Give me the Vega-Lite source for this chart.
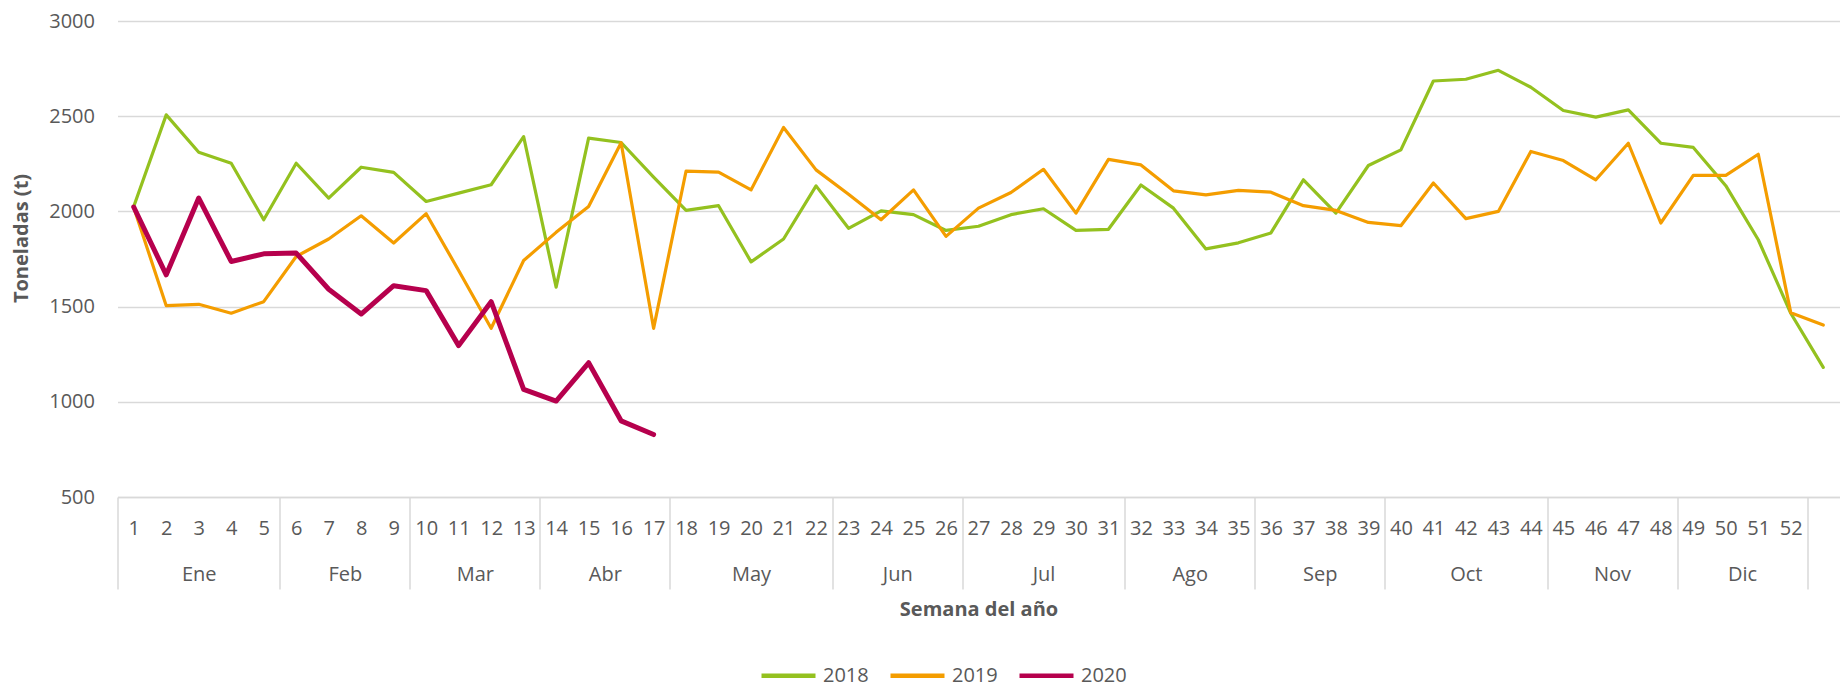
{
  "$schema": "https://vega.github.io/schema/vega-lite/v6.json",
  "width": 1722,
  "height": 476,
  "autosize": {"type": "none"},
  "padding": {"left": 117.5, "top": 21, "right": 3.5, "bottom": 193},
  "background": "white",
  "config": {
    "font": "Open Sans",
    "view": {"stroke": null},
    "axis": {"labelColor": "#595959", "labelFontSize": 20, "labelFont": "Open Sans", "titleColor": "#595959", "titleFontSize": 20, "titleFontWeight": "bold", "titleFont": "Open Sans"}
  },
  "data": {"values": [
    {"year": 2018, "week": 1, "t": 2026}, {"year": 2018, "week": 2, "t": 2507}, {"year": 2018, "week": 3, "t": 2311}, {"year": 2018, "week": 4, "t": 2253}, {"year": 2018, "week": 5, "t": 1956}, {"year": 2018, "week": 6, "t": 2253}, {"year": 2018, "week": 7, "t": 2070}, {"year": 2018, "week": 8, "t": 2232}, {"year": 2018, "week": 9, "t": 2205}, {"year": 2018, "week": 10, "t": 2052}, {"year": 2018, "week": 11, "t": 2096}, {"year": 2018, "week": 12, "t": 2140}, {"year": 2018, "week": 13, "t": 2393}, {"year": 2018, "week": 14, "t": 1602}, {"year": 2018, "week": 15, "t": 2385}, {"year": 2018, "week": 16, "t": 2362}, {"year": 2018, "week": 17, "t": 2180}, {"year": 2018, "week": 18, "t": 2005}, {"year": 2018, "week": 19, "t": 2030}, {"year": 2018, "week": 20, "t": 1735}, {"year": 2018, "week": 21, "t": 1855}, {"year": 2018, "week": 22, "t": 2134}, {"year": 2018, "week": 23, "t": 1911}, {"year": 2018, "week": 24, "t": 2003}, {"year": 2018, "week": 25, "t": 1983}, {"year": 2018, "week": 26, "t": 1900}, {"year": 2018, "week": 27, "t": 1922}, {"year": 2018, "week": 28, "t": 1983}, {"year": 2018, "week": 29, "t": 2014}, {"year": 2018, "week": 30, "t": 1900}, {"year": 2018, "week": 31, "t": 1906}, {"year": 2018, "week": 32, "t": 2139}, {"year": 2018, "week": 33, "t": 2017}, {"year": 2018, "week": 34, "t": 1803}, {"year": 2018, "week": 35, "t": 1835}, {"year": 2018, "week": 36, "t": 1887}, {"year": 2018, "week": 37, "t": 2166}, {"year": 2018, "week": 38, "t": 1991}, {"year": 2018, "week": 39, "t": 2241}, {"year": 2018, "week": 40, "t": 2323}, {"year": 2018, "week": 41, "t": 2685}, {"year": 2018, "week": 42, "t": 2694}, {"year": 2018, "week": 43, "t": 2741}, {"year": 2018, "week": 44, "t": 2652}, {"year": 2018, "week": 45, "t": 2530}, {"year": 2018, "week": 46, "t": 2495}, {"year": 2018, "week": 47, "t": 2533}, {"year": 2018, "week": 48, "t": 2358}, {"year": 2018, "week": 49, "t": 2336}, {"year": 2018, "week": 50, "t": 2135}, {"year": 2018, "week": 51, "t": 1851}, {"year": 2018, "week": 52, "t": 1465}, {"year": 2018, "week": 53, "t": 1181},
    {"year": 2019, "week": 1, "t": 2020}, {"year": 2019, "week": 2, "t": 1505}, {"year": 2019, "week": 3, "t": 1512}, {"year": 2019, "week": 4, "t": 1465}, {"year": 2019, "week": 5, "t": 1526}, {"year": 2019, "week": 6, "t": 1763}, {"year": 2019, "week": 7, "t": 1855}, {"year": 2019, "week": 8, "t": 1977}, {"year": 2019, "week": 9, "t": 1834}, {"year": 2019, "week": 10, "t": 1988}, {"year": 2019, "week": 11, "t": 1690}, {"year": 2019, "week": 12, "t": 1386}, {"year": 2019, "week": 13, "t": 1742}, {"year": 2019, "week": 14, "t": 1890}, {"year": 2019, "week": 15, "t": 2026}, {"year": 2019, "week": 16, "t": 2361}, {"year": 2019, "week": 17, "t": 1386}, {"year": 2019, "week": 18, "t": 2212}, {"year": 2019, "week": 19, "t": 2206}, {"year": 2019, "week": 20, "t": 2113}, {"year": 2019, "week": 21, "t": 2441}, {"year": 2019, "week": 22, "t": 2218}, {"year": 2019, "week": 23, "t": 2090}, {"year": 2019, "week": 24, "t": 1956}, {"year": 2019, "week": 25, "t": 2113}, {"year": 2019, "week": 26, "t": 1869}, {"year": 2019, "week": 27, "t": 2017}, {"year": 2019, "week": 28, "t": 2099}, {"year": 2019, "week": 29, "t": 2221}, {"year": 2019, "week": 30, "t": 1991}, {"year": 2019, "week": 31, "t": 2273}, {"year": 2019, "week": 32, "t": 2244}, {"year": 2019, "week": 33, "t": 2108}, {"year": 2019, "week": 34, "t": 2087}, {"year": 2019, "week": 35, "t": 2110}, {"year": 2019, "week": 36, "t": 2101}, {"year": 2019, "week": 37, "t": 2030}, {"year": 2019, "week": 38, "t": 2005}, {"year": 2019, "week": 39, "t": 1942}, {"year": 2019, "week": 40, "t": 1925}, {"year": 2019, "week": 41, "t": 2149}, {"year": 2019, "week": 42, "t": 1962}, {"year": 2019, "week": 43, "t": 2000}, {"year": 2019, "week": 44, "t": 2315}, {"year": 2019, "week": 45, "t": 2267}, {"year": 2019, "week": 46, "t": 2166}, {"year": 2019, "week": 47, "t": 2358}, {"year": 2019, "week": 48, "t": 1939}, {"year": 2019, "week": 49, "t": 2189}, {"year": 2019, "week": 50, "t": 2189}, {"year": 2019, "week": 51, "t": 2300}, {"year": 2019, "week": 52, "t": 1468}, {"year": 2019, "week": 53, "t": 1403},
    {"year": 2020, "week": 1, "t": 2023}, {"year": 2020, "week": 2, "t": 1667}, {"year": 2020, "week": 3, "t": 2070}, {"year": 2020, "week": 4, "t": 1737}, {"year": 2020, "week": 5, "t": 1777}, {"year": 2020, "week": 6, "t": 1781}, {"year": 2020, "week": 7, "t": 1591}, {"year": 2020, "week": 8, "t": 1461}, {"year": 2020, "week": 9, "t": 1610}, {"year": 2020, "week": 10, "t": 1584}, {"year": 2020, "week": 11, "t": 1295}, {"year": 2020, "week": 12, "t": 1526}, {"year": 2020, "week": 13, "t": 1065}, {"year": 2020, "week": 14, "t": 1004}, {"year": 2020, "week": 15, "t": 1205}, {"year": 2020, "week": 16, "t": 900}, {"year": 2020, "week": 17, "t": 828}
  ]},
  "encoding": {
    "color": {"field": "year", "type": "ordinal", "scale": {"domain": [2018, 2019, 2020], "range": ["#94C11F", "#F49D00", "#B6004D"]},
      "legend": {"title": null, "orient": "none", "legendX": 641.5, "legendY": 625, "direction": "horizontal", "symbolType": "stroke", "symbolSize": 2916, "symbolStrokeWidth": 4.5, "labelFontSize": 20, "labelColor": "#595959", "labelFont": "Open Sans", "labelOffset": 5, "columnPadding": 12}}
  },
  "layer": [
    {
      "transform": [{"filter": "datum.year == 2018"}],
      "mark": {"type": "line", "strokeWidth": 3.2, "strokeJoin": "round", "strokeCap": "round"},
      "encoding": {
        "x": {"field": "week", "type": "quantitative", "scale": {"domain": [0.5, 53.5], "nice": false, "zero": false},
          "axis": {"orient": "bottom", "values": [1,2,3,4,5,6,7,8,9,10,11,12,13,14,15,16,17,18,19,20,21,22,23,24,25,26,27,28,29,30,31,32,33,34,35,36,37,38,39,40,41,42,43,44,45,46,47,48,49,50,51,52], "format": "d", "ticks": false, "tickSize": 0, "domain": true, "domainColor": "#D9D9D9", "domainWidth": 1.5, "labelPadding": 21, "labelOverlap": false, "labelFlush": false, "labelBound": false, "grid": false, "title": null}},
        "y": {"field": "t", "type": "quantitative", "scale": {"domain": [500, 3000], "nice": false, "zero": false},
          "axis": {"orient": "left", "values": [500, 1000, 1500, 2000, 2500, 3000], "format": "d", "grid": true, "gridColor": "#D9D9D9", "gridWidth": 1.5, "domain": false, "ticks": false, "tickSize": 0, "labelPadding": 23, "title": "Toneladas (t)", "titleX": -96, "titleY": 217, "titleAngle": -90, "titleAlign": "center", "titleBaseline": "middle"}}
      }
    },
    {
      "transform": [{"filter": "datum.year == 2019"}],
      "mark": {"type": "line", "strokeWidth": 3.2, "strokeJoin": "round", "strokeCap": "round"},
      "encoding": {
        "x": {"field": "week", "type": "quantitative", "scale": {"domain": [0.5, 53.5], "nice": false, "zero": false},
          "axis": {"orient": "bottom", "values": [3, 7.5, 11.5, 15.5, 20, 24.5, 29, 33.5, 37.5, 42, 46.5, 50.5], "labelExpr": "datum.value < 5 ? 'Ene' : datum.value < 9 ? 'Feb' : datum.value < 13 ? 'Mar' : datum.value < 17 ? 'Abr' : datum.value < 22 ? 'May' : datum.value < 26 ? 'Jun' : datum.value < 31 ? 'Jul' : datum.value < 35 ? 'Ago' : datum.value < 39 ? 'Sep' : datum.value < 44 ? 'Oct' : datum.value < 48 ? 'Nov' : 'Dic'", "ticks": false, "tickSize": 0, "domain": false, "labelPadding": 67, "labelOverlap": false, "labelFlush": false, "labelBound": false, "grid": false, "title": null}},
        "y": {"field": "t", "type": "quantitative", "scale": {"domain": [500, 3000], "nice": false, "zero": false}, "axis": null}
      }
    },
    {
      "transform": [{"filter": "datum.year == 2020"}],
      "mark": {"type": "line", "strokeWidth": 5, "strokeJoin": "round", "strokeCap": "round"},
      "encoding": {
        "x": {"field": "week", "type": "quantitative", "scale": {"domain": [0.5, 53.5], "nice": false, "zero": false},
          "axis": {"orient": "bottom", "values": [0.5, 5.5, 9.5, 13.5, 17.5, 22.5, 26.5, 31.5, 35.5, 39.5, 44.5, 48.5, 52.5], "ticks": true, "tickSize": 92, "tickColor": "#D9D9D9", "tickWidth": 1.5, "labels": false, "domain": false, "grid": false, "title": "Semana del año", "titlePadding": 10}},
        "y": {"field": "t", "type": "quantitative", "scale": {"domain": [500, 3000], "nice": false, "zero": false}, "axis": null}
      }
    }
  ],
  "resolve": {"axis": {"x": "independent", "y": "independent"}}
}
